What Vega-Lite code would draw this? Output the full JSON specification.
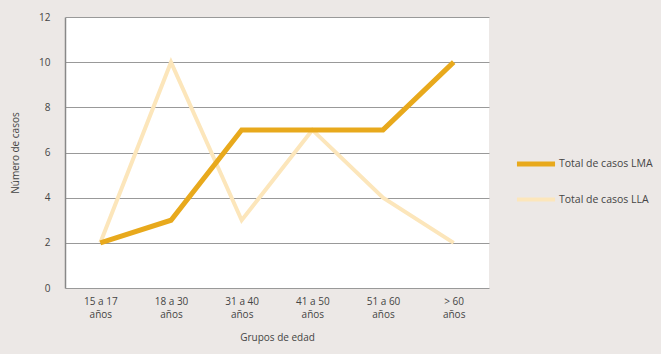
{
  "$schema": "https://vega.github.io/schema/vega-lite/v6.json",
  "width": 424,
  "height": 271,
  "autosize": {"type": "none"},
  "padding": {"left": 65, "top": 17, "right": 172, "bottom": 66},
  "background": "#ece8e6",
  "config": {
    "view": {"fill": "white", "stroke": null},
    "font": "Open Sans",
    "axis": {"labelFont": "Open Sans", "titleFont": "Open Sans", "labelColor": "#444", "titleColor": "#444", "labelFontSize": 10, "titleFontSize": 10, "titleFontWeight": "normal"}
  },
  "data": {
    "values": [
      {"grupo": "15 a 17 años", "serie": "Total de casos LLA", "casos": 2},
      {"grupo": "18 a 30 años", "serie": "Total de casos LLA", "casos": 10},
      {"grupo": "31 a 40 años", "serie": "Total de casos LLA", "casos": 3},
      {"grupo": "41 a 50 años", "serie": "Total de casos LLA", "casos": 7},
      {"grupo": "51 a 60 años", "serie": "Total de casos LLA", "casos": 4},
      {"grupo": "> 60 años", "serie": "Total de casos LLA", "casos": 2},
      {"grupo": "15 a 17 años", "serie": "Total de casos LMA", "casos": 2},
      {"grupo": "18 a 30 años", "serie": "Total de casos LMA", "casos": 3},
      {"grupo": "31 a 40 años", "serie": "Total de casos LMA", "casos": 7},
      {"grupo": "41 a 50 años", "serie": "Total de casos LMA", "casos": 7},
      {"grupo": "51 a 60 años", "serie": "Total de casos LMA", "casos": 7},
      {"grupo": "> 60 años", "serie": "Total de casos LMA", "casos": 10}
    ]
  },
  "mark": {"type": "line", "strokeCap": "butt", "strokeJoin": "miter"},
  "encoding": {
    "x": {
      "field": "grupo", "type": "ordinal", "sort": null,
      "scale": {"type": "point", "padding": 0.5},
      "axis": {"title": "Grupos de edad", "labelAngle": 0, "ticks": false, "domain": false, "labelPadding": 8, "titlePadding": 13,
        "labelExpr": "split(replace(datum.label, ' años', '|años'), '|')", "labelLineHeight": 13}
    },
    "y": {
      "field": "casos", "type": "quantitative",
      "scale": {"domain": [0, 12]},
      "axis": {"title": "Número de casos", "values": [0,2,4,6,8,10,12], "labelOverlap": false, "ticks": false, "domainColor": "#888", "domainWidth": 1.5, "gridColor": "#999", "gridWidth": 1, "labelPadding": 15, "titlePadding": 18}
    },
    "color": {
      "field": "serie", "type": "nominal",
      "scale": {"domain": ["Total de casos LMA", "Total de casos LLA"], "range": ["#e8a91c", "#fce6bb"]},
      "legend": {"title": null, "orient": "none", "legendX": 449, "legendY": 125, "symbolType": "stroke", "symbolSize": 1450, "symbolStrokeWidth": 5, "labelFontSize": 10.5, "labelColor": "#444", "labelFont": "Open Sans", "rowPadding": 4, "labelOffset": 1}
    },
    "strokeWidth": {
      "field": "serie", "type": "nominal",
      "scale": {"domain": ["Total de casos LMA", "Total de casos LLA"], "range": [5, 4]},
      "legend": null
    },
    "order": {"field": "serie", "sort": "descending"}
  }
}
